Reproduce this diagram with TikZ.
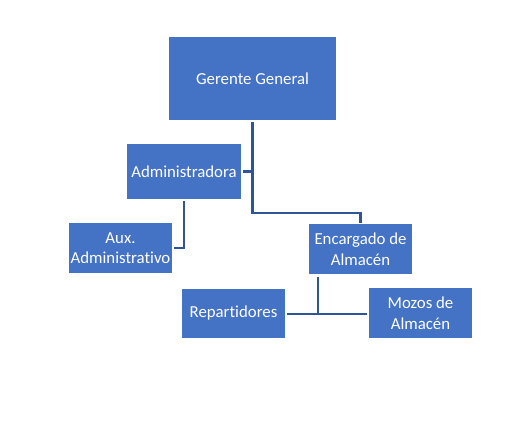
\documentclass[tikz,border=0pt]{standalone}
\usepackage{fontspec}
\setmainfont{Carlito}[Ligatures=NoCommon]
\definecolor{boxblue}{RGB}{68,114,196}
\definecolor{lineblue}{RGB}{47,85,151}
\begin{document}
\begin{tikzpicture}[x=1pt,y=-1pt,
  box/.style={fill=boxblue,draw=none,text=white,inner sep=0pt,align=center,
    font=\fontsize{16.8}{20.5}\selectfont},
  conn/.style={draw=lineblue,line width=2.2pt}]
\useasboundingbox (0,0) rectangle (524,428);
\node[box,minimum width=167pt,minimum height=83pt] (g) at (252.5,78.5) {Gerente General};
\node[box,minimum width=114pt,minimum height=55pt] (a) at (184,171.5) {Administradora};
\node[box,minimum width=103pt,minimum height=50pt] (x) at (120.5,248) {Aux.\\Administrativo};
\node[box,minimum width=103pt,minimum height=50pt] (e) at (360.5,249) {Encargado de\\Almacén};
\node[box,minimum width=103pt,minimum height=49pt] (r) at (233.5,313.5) {Repartidores};
\node[box,minimum width=103pt,minimum height=50pt] (m) at (420.5,313) {Mozos de\\Almacén};
\coordinate (j1) at (252.5,213);
\coordinate (j2) at (318,314);
\draw[conn,shorten <=2pt,shorten >=1pt] (g.south) -- (j1) -| (e.north);
\draw[conn,shorten <=2pt] (a.east) -- (a.east -| g.south);
\draw[conn,shorten <=2pt,shorten >=2pt] (a.south) |- (x.east);
\draw[conn,shorten <=3pt] (e.south -| j2) -- (j2);
\draw[conn,shorten <=2pt,shorten >=2pt] (r.east |- j2) -- (m.west |- j2);
\end{tikzpicture}
\end{document}
